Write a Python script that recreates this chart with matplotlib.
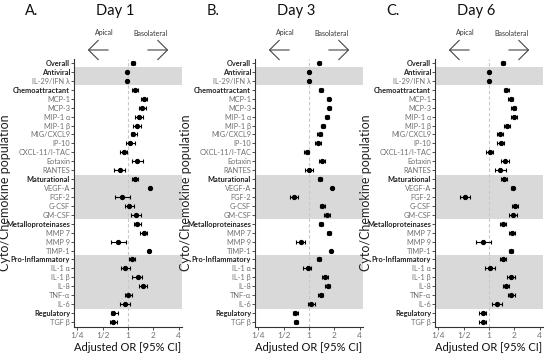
import matplotlib
matplotlib.use("Agg")
import matplotlib.pyplot as plt
import numpy as np

plt.rcParams['font.family'] = ['Lato', 'DejaVu Sans']

# row labels, top to bottom
rows = ['Overall', 'Antiviral', 'IL-29/IFN λ', 'Chemoattractant', 'MCP-1', 'MCP-3',
        'MIP-1 α', 'MIP-1 β', 'MIG/CXCL9', 'IP-10', 'CXCL-11/I-TAC', 'Eotaxin', 'RANTES',
        'Maturational', 'VEGF-A', 'FGF-2', 'G-CSF', 'GM-CSF',
        'Metalloproteinases', 'MMP 7', 'MMP 9', 'TIMP-1',
        'Pro-Inflammatory', 'IL-1 α', 'IL-1 β', 'IL-8', 'TNF-α', 'IL-6',
        'Regulatory', 'TGF β']
headers = ['Overall', 'Antiviral', 'Chemoattractant', 'Maturational',
           'Metalloproteinases', 'Pro-Inflammatory', 'Regulatory']
# groups drawn on a grey band: (first row, last row)
shaded = [('Antiviral', 'IL-29/IFN λ'), ('Maturational', 'GM-CSF'), ('Pro-Inflammatory', 'IL-6')]

titles = ['Day 1', 'Day 3', 'Day 6']
letters = ['A.', 'B.', 'C.']

# adjusted odds ratios with 95% CI
or_day1 = [1.15, 0.98, 0.98, 1.20, 1.54, 1.46, 1.35, 1.29, 1.16, 1.06, 0.89, 1.29, 0.80,
           1.20, 1.84, 0.86, 1.03, 1.25, 1.29, 1.54, 0.76, 1.78,
           1.12, 0.92, 1.30, 1.49, 1.01, 0.91, 0.67, 0.67]
lo_day1 = [1.08, 0.95, 0.95, 1.11, 1.41, 1.34, 1.20, 1.16, 1.08, 0.955, 0.81, 1.12, 0.68,
           1.12, 1.80, 0.71, 0.93, 1.09, 1.18, 1.40, 0.62, 1.72,
           1.03, 0.82, 1.13, 1.36, 0.93, 0.80, 0.62, 0.61]
hi_day1 = [1.22, 1.01, 1.01, 1.30, 1.68, 1.64, 1.52, 1.44, 1.27, 1.20, 0.98, 1.49, 0.93,
           1.30, 1.88, 1.06, 1.18, 1.44, 1.41, 1.70, 0.94, 1.84,
           1.21, 1.06, 1.48, 1.67, 1.11, 1.07, 0.76, 0.75]

or_day3 = [1.32, 1.00, 1.00, 1.39, 1.72, 1.75, 1.62, 1.46, 1.34, 1.27, 0.94, 1.42, 1.01,
           1.35, 1.89, 0.67, 1.44, 1.62, 1.38, 1.73, 0.80, 1.84,
           1.32, 0.96, 1.56, 1.68, 1.38, 1.06, 0.69, 0.70]
lo_day3 = [1.27, 0.97, 0.97, 1.32, 1.64, 1.67, 1.54, 1.37, 1.26, 1.17, 0.88, 1.31, 0.90,
           1.27, 1.85, 0.60, 1.34, 1.50, 1.30, 1.64, 0.71, 1.80,
           1.24, 0.86, 1.43, 1.57, 1.29, 0.96, 0.65, 0.66]
hi_day3 = [1.37, 1.03, 1.03, 1.47, 1.80, 1.83, 1.71, 1.56, 1.43, 1.38, 1.00, 1.55, 1.13,
           1.42, 1.93, 0.75, 1.55, 1.76, 1.47, 1.83, 0.90, 1.88,
           1.40, 1.07, 1.69, 1.80, 1.48, 1.17, 0.74, 0.74]

or_day6 = [1.48, 1.00, 1.00, 1.60, 1.82, 1.96, 1.99, 1.62, 1.36, 1.37, 1.02, 1.56, 1.36,
           1.51, 1.91, 0.52, 2.04, 1.95, 1.46, 1.89, 0.86, 1.84,
           1.45, 1.03, 1.84, 1.60, 1.84, 1.26, 0.84, 0.84]
lo_day6 = [1.40, 0.97, 0.97, 1.49, 1.69, 1.82, 1.82, 1.50, 1.26, 1.25, 0.93, 1.39, 1.17,
           1.40, 1.82, 0.45, 1.86, 1.74, 1.34, 1.74, 0.71, 1.74,
           1.34, 0.89, 1.65, 1.47, 1.69, 1.09, 0.76, 0.76]
hi_day6 = [1.57, 1.03, 1.03, 1.72, 1.95, 2.11, 2.17, 1.76, 1.46, 1.49, 1.12, 1.74, 1.58,
           1.62, 1.99, 0.60, 2.23, 2.17, 1.60, 2.05, 1.05, 1.94,
           1.58, 1.18, 2.06, 1.75, 2.01, 1.44, 0.93, 0.92]

xticks = [0.25, 0.5, 1, 2, 4]
xticklabels = ['1/4', '1/2', '1', '2', '4']

W, H = 550, 354
fig = plt.figure(figsize=(W / 100, H / 100), dpi=100)

panels = [(or_day1, lo_day1, hi_day1), (or_day3, lo_day3, hi_day3), (or_day6, lo_day6, hi_day6)]
lefts = [74, 255, 435]   # axes left edge, px
ax_w, ax_top, ax_bot = 108, 59, 327

y = np.arange(len(rows))
for i, (est, lo, hi) in enumerate(panels):
    left = lefts[i]
    ax = fig.add_axes([left / W, 1 - ax_bot / H, ax_w / W, (ax_bot - ax_top) / H])
    est = np.array(est)
    err = [est - np.array(lo), np.array(hi) - est]

    for a, b in shaded:
        ax.axhspan(rows.index(a) - 0.5, rows.index(b) + 0.5, color='#d9d9d9', lw=0, zorder=0)
    ax.axvline(1, color='#c8c8c8', lw=0.8, ls=(0, (3, 2)), zorder=1)
    ax.errorbar(est, y, xerr=err, fmt='o', color='black', ms=2.8, elinewidth=0.8,
                capsize=1.4, capthick=0.8, zorder=3)

    ax.set_xscale('log', base=2)
    ax.set_xlim(2 ** -2.13, 2 ** 2.13)
    ax.set_ylim(len(rows) - 0.44, -0.45)
    ax.set_xticks(xticks)
    ax.set_xticklabels(xticklabels)
    ax.xaxis.set_minor_locator(matplotlib.ticker.NullLocator())
    ax.set_yticks(y)
    ax.set_yticklabels(rows)
    for t in ax.get_yticklabels():
        if t.get_text() in headers:
            t.set_fontweight('bold')
            t.set_color('#222222')
        else:
            t.set_color('#707070')
    ax.tick_params(axis='y', labelsize=5.3, length=2, width=0.6, pad=0.8, color='#333333')
    ax.tick_params(axis='x', labelsize=6, length=2, width=0.6, pad=1.5, colors='#707070')
    ax.tick_params(axis='x', color='#333333')
    for s in ['top', 'right']:
        ax.spines[s].set_visible(False)
    for s in ['left', 'bottom']:
        ax.spines[s].set_color('#333333')
        ax.spines[s].set_linewidth(0.8)

    ax.set_xlabel('Adjusted OR [95% CI]', fontsize=8, labelpad=2, color='#111111')

    # y label, title and panel letter
    fig.text((left - 69) / W, 1 - 193 / H, 'Cyto/Chemokine population', rotation=90,
             fontsize=9, ha='center', va='center', color='#222222')
    fig.text((left + ax_w / 2 - 13) / W, 1 - 11 / H, titles[i], fontsize=10.5,
             ha='center', va='center', color='#111111')
    fig.text((left - 42) / W, 1 - 11 / H, letters[i], fontsize=10.5,
             ha='center', va='center', color='#111111')

    # direction arrows
    x1 = left + 55   # px of OR = 1
    fig.text((x1 - 25) / W, 1 - 33 / H, 'Apical', fontsize=5, ha='center', va='center',
             color='#333333')
    fig.text((x1 + 21) / W, 1 - 33 / H, 'Basolateral', fontsize=5, ha='center', va='center',
             color='#333333')
    for xa, xb in [(x1 - 18, x1 - 44), (x1 + 16, x1 + 42)]:
        fig.add_artist(matplotlib.patches.FancyArrowPatch(
            (xa / W, 1 - 50 / H), (xb / W, 1 - 50 / H), transform=fig.transFigure,
            arrowstyle='->,head_length=0.5,head_width=0.5', mutation_scale=14,
            color='#444444', lw=0.8))

fig.savefig('out.png', dpi=100)
